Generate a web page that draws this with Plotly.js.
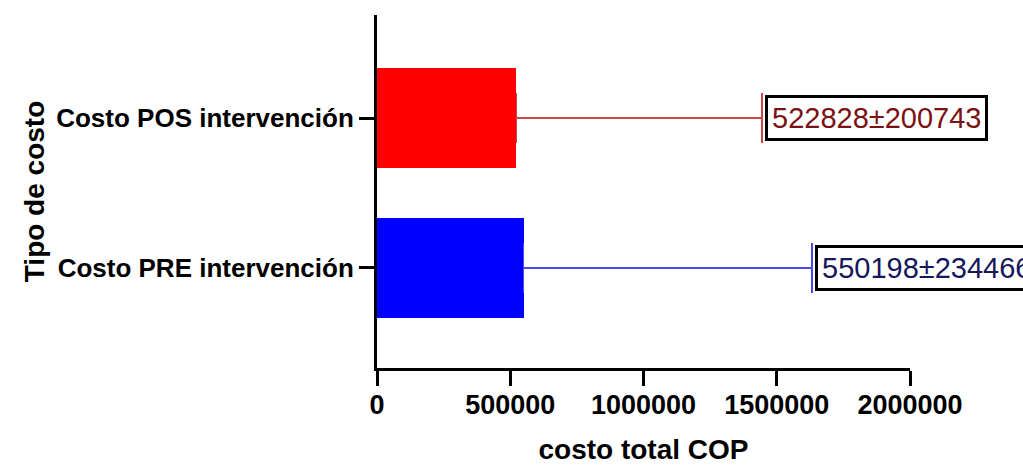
<!DOCTYPE html>
<html>
<head>
<meta charset="utf-8">
<script src="https://cdn.plot.ly/plotly-3.0.1.min.js"></script>
<style>html,body{margin:0;padding:0;background:#fff;}#chart{width:1023px;height:465px;}</style>
</head>
<body>
<div id="chart"></div>
<script>
// Data
const categories = ['Costo PRE intervención', 'Costo POS intervención'];
const means = [550198, 522828];
const sds = [234466, 200743];
const errorReach = [1082000, 921800]; // visible length of the drawn error whisker
const xTicks = [0, 500000, 1000000, 1500000, 2000000];
const barColors = ['#0000ff', '#ff0000'];
const errColors = ['#4a4ae8', '#c84848'];
const textColors = ['#16165c', '#7a1214'];

const traces = categories.map((c, i) => ({
  type: 'bar',
  orientation: 'h',
  y: [c],
  x: [means[i]],
  width: 0.667,
  marker: {color: barColors[i], line: {width: 0}},
  error_x: {
    type: 'data', symmetric: false,
    array: [errorReach[i]], arrayminus: [0],
    color: errColors[i], thickness: 1.2, width: 25
  },
  cliponaxis: false,
  hoverinfo: 'none',
  showlegend: false
}));

const annotations = categories.map((c, i) => ({
  x: means[i] + errorReach[i],
  y: c,
  xref: 'x', yref: 'y',
  xanchor: 'left', yanchor: 'middle',
  xshift: 3,
  showarrow: false,
  text: means[i] + '±' + sds[i],
  font: {family: 'Liberation Sans, Arial, sans-serif', size: 29, color: textColors[i]},
  bgcolor: '#ffffff',
  bordercolor: '#000000',
  borderwidth: 3,
  borderpad: 4
}));

const boldFont = 'Liberation Sans, Arial, sans-serif';

const layout = {
  width: 1023, height: 465,
  margin: {l: 377, r: 113, t: 15, b: 97},
  paper_bgcolor: '#ffffff', plot_bgcolor: '#ffffff',
  bargap: 0,
  xaxis: {
    range: [0, 2000000],
    tickvals: xTicks,
    ticktext: xTicks.map(v => '<b>' + v + '</b>'),
    showgrid: false, zeroline: false,
    showline: true, linecolor: '#000', linewidth: 3,
    ticks: 'outside', ticklen: 15, tickwidth: 3, tickcolor: '#000',
    ticklabelstandoff: -4,
    tickfont: {family: boldFont, size: 27, color: '#000'},
    title: {text: '<b>costo total COP</b>', font: {family: boldFont, size: 28, color: '#000'}, standoff: 32},
    fixedrange: true
  },
  yaxis: {
    type: 'category',
    categoryorder: 'array', categoryarray: categories,
    range: [-0.667, 1.687],
    tickvals: categories,
    ticktext: categories.map(c => '<b>' + c + '</b>'),
    showgrid: false, zeroline: false,
    showline: true, linecolor: '#000', linewidth: 3,
    ticks: 'outside', ticklen: 15, tickwidth: 3, tickcolor: '#000',
    tickfont: {family: boldFont, size: 26, color: '#000'},
    title: {text: '<b>Tipo de costo</b>', font: {family: boldFont, size: 28, color: '#000'}, standoff: 4},
    fixedrange: true
  },
  annotations: annotations,
  showlegend: false
};

Plotly.newPlot('chart', traces, layout, {staticPlot: true, displayModeBar: false});
</script>
</body>
</html>
